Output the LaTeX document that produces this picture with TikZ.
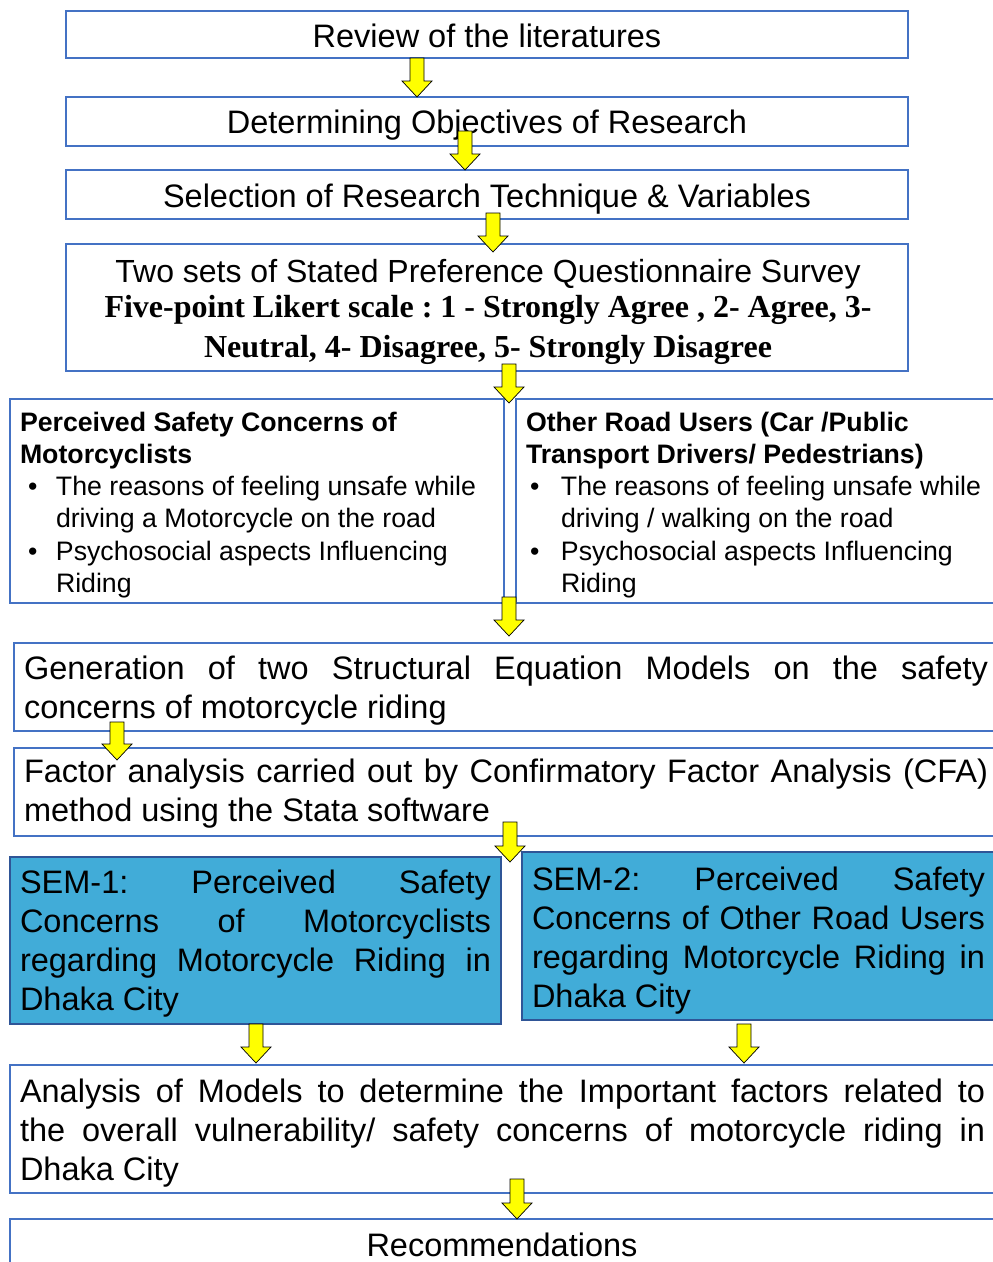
\documentclass[tikz,border=0pt]{standalone}
\usepackage{fontspec}
\setmainfont{Liberation Sans}
\newfontfamily\timesfont{Liberation Serif}
\usetikzlibrary{calc}
\frenchspacing

\definecolor{boxblue}{HTML}{4472C4}
\definecolor{semfill}{HTML}{41ACD8}
\definecolor{semline}{HTML}{2F5597}
\definecolor{arrowyellow}{HTML}{FFFF00}

\tikzset{
  box/.style={draw=boxblue, line width=1.3pt, anchor=north west,
    inner sep=0pt, outer sep=0pt},
  sembox/.style={box, fill=semfill, draw=semline},
  bigtext/.style={font=\fontsize{32.5}{39}\selectfont, inner sep=0pt, outer sep=0pt},
  surveytext/.style={font=\fontsize{32}{39}\selectfont, inner sep=0pt, outer sep=0pt},
  smalltext/.style={font=\fontsize{26.7}{32.3}\selectfont, inner sep=0pt, outer sep=0pt},
  likert/.style={font=\fontsize{32}{40}\selectfont\timesfont\bfseries, inner sep=0pt, outer sep=0pt},
  flowarrow/.style={fill=arrowyellow, draw=black, line width=0.7pt, line join=miter},
}

% vertical block arrow from #1 (tail) to #2 (tip)
\newcommand\flowarrow[2]{%
  \filldraw[flowarrow] let \p1=(#1), \p2=(#2) in
    (\x1-7pt,\y1) -- (\x1+7pt,\y1) -- (\x1+7pt,\y2+16pt) -- (\x1+15pt,\y2+16pt)
    -- (\x1,\y2) -- (\x1-15pt,\y2+16pt) -- (\x1-7pt,\y2+16pt) -- cycle;}

% justified line of a given width
\newcommand\jline[2]{\makebox[#1][s]{#2}}
\newcommand\bul[2]{\hspace*{#1}\makebox[#2][l]{•}}

\begin{document}
\begin{tikzpicture}[x=1pt, y=-1pt]
\useasboundingbox (0,0) rectangle (993,1262);
\clip (0,0) rectangle (993,1262);
\fill[white] (0,0) rectangle (993,1262);

% ---------- boxes ----------
\node[box, minimum width=842pt, minimum height=47pt] (b1) at (66,11) {};
\node[box, minimum width=842pt, minimum height=49pt] (b2) at (66,97) {};
\node[box, minimum width=842pt, minimum height=49pt] (b3) at (66,170) {};
\node[box, minimum width=842pt, minimum height=127pt] (b4) at (66,244) {};
\node[box, minimum width=494pt, minimum height=204pt] (bL) at (10,399) {};
\node[box, minimum width=490pt, minimum height=204pt] (bR) at (516,399) {};
\node[box, minimum width=992pt, minimum height=88pt] (b6) at (14,643) {};
\node[box, minimum width=992pt, minimum height=88pt] (b7) at (14,748) {};
\node[sembox, minimum width=491pt, minimum height=167pt] (s1) at (10,857) {};
\node[sembox, minimum width=484pt, minimum height=168pt] (s2) at (522,852) {};
\node[box, minimum width=995pt, minimum height=128pt] (b10) at (10,1065) {};
\node[box, minimum width=985pt, minimum height=60pt] (b11) at (10,1219) {};

% ---------- texts (multi-line nodes are placed by their last baseline) ----------
\node[bigtext, anchor=base] (t1) at (487,47) {Review of the literatures};
\node[bigtext, anchor=base] (t2) at (487,133) {Determining Objectives of Research};
\node[bigtext, anchor=base] (t3) at (487,207) {Selection of Research Technique \& Variables};
\node[surveytext, anchor=base] (t4a) at (488,282) {Two sets of Stated Preference Questionnaire Survey};
\node[likert, anchor=base] (t4b) at (488,317) {Five-point Likert scale : 1 - Strongly Agree , 2- Agree, 3-};
\node[likert, anchor=base] (t4c) at (488,357) {Neutral, 4- Disagree, 5- Strongly Disagree};

\node[smalltext, anchor=base west, align=left] (tL) at (20,592.5)
  {\textbf{Perceived Safety Concerns of}\\
   \textbf{Motorcyclists}\\
   \bul{8pt}{28pt}The reasons of feeling unsafe while\\
   \hspace*{36pt}driving a Motorcycle on the road\\
   \bul{8pt}{28pt}Psychosocial aspects Influencing\\
   \hspace*{36pt}Riding};
\node[smalltext, anchor=base west, align=left] (tR) at (526,592.5)
  {\textbf{Other Road Users (Car /Public}\\
   \textbf{Transport Drivers/ Pedestrians)}\\
   \bul{4pt}{31pt}The reasons of feeling unsafe while\\
   \hspace*{35pt}driving / walking on the road\\
   \bul{4pt}{31pt}Psychosocial aspects Influencing\\
   \hspace*{35pt}Riding};

\node[bigtext, anchor=base west, align=left] (t6) at (24,718)
  {\jline{964pt}{Generation of two Structural Equation Models on the safety}\\
   concerns of motorcycle riding};
\node[bigtext, anchor=base west, align=left] (t7) at (24,821)
  {\jline{964pt}{Factor analysis carried out by Confirmatory Factor Analysis (CFA)}\\
   method using the Stata software};
\node[bigtext, anchor=base west, align=left] (ts1) at (20,1010)
  {\jline{471pt}{SEM-1: Perceived Safety}\\
   \jline{471pt}{Concerns of Motorcyclists}\\
   \jline{471pt}{regarding Motorcycle Riding in}\\
   Dhaka City};
\node[bigtext, anchor=base west, align=left] (ts2) at (532,1007)
  {\jline{453pt}{SEM-2: Perceived Safety}\\
   \jline{453pt}{Concerns of Other Road Users}\\
   \jline{453pt}{regarding Motorcycle Riding in}\\
   Dhaka City};
\node[bigtext, anchor=base west, align=left] (t10) at (20,1180)
  {\jline{965pt}{Analysis of Models to determine the Important factors related to}\\
   \jline{965pt}{the overall vulnerability/ safety concerns of motorcycle riding in}\\
   Dhaka City};
\node[bigtext, anchor=base] (t11) at (502,1256) {Recommendations};

% ---------- arrows ----------
\coordinate (ax1) at (417,0);
\coordinate (ax2) at (465,0);
\coordinate (ax3) at (493,0);
\coordinate (ax4) at (509,0);
\coordinate (ax6) at (117,0);
\coordinate (ax7) at (510,0);
\coordinate (ax8) at (256,0);
\coordinate (ax9) at (744,0);
\coordinate (ax10) at (517,0);

\flowarrow{b1.south -| ax1}{b2.north -| ax1}
\flowarrow{$(b3.north -| ax2)+(0,-39)$}{b3.north -| ax2}
\flowarrow{$(b3.south -| ax3)+(0,-6)$}{$(b4.north -| ax3)+(0,8)$}
\flowarrow{$(b4.south -| ax4)+(0,-7)$}{$(bL.north -| ax4)+(0,4)$}
\flowarrow{$(bL.south -| ax4)+(0,-6)$}{$(b6.north -| ax4)+(0,-7)$}
\flowarrow{$(b6.south -| ax6)+(0,-9)$}{$(b7.north -| ax6)+(0,12)$}
\flowarrow{$(b7.south -| ax7)+(0,-14)$}{$(s1.north -| ax7)+(0,5)$}
\flowarrow{s1.south -| ax8}{$(b10.north -| ax8)+(0,-2)$}
\flowarrow{$(s2.south -| ax9)+(0,4)$}{$(b10.north -| ax9)+(0,-2)$}
\flowarrow{$(b10.south -| ax10)+(0,-14)$}{b11.north -| ax10}
\end{tikzpicture}
\end{document}
